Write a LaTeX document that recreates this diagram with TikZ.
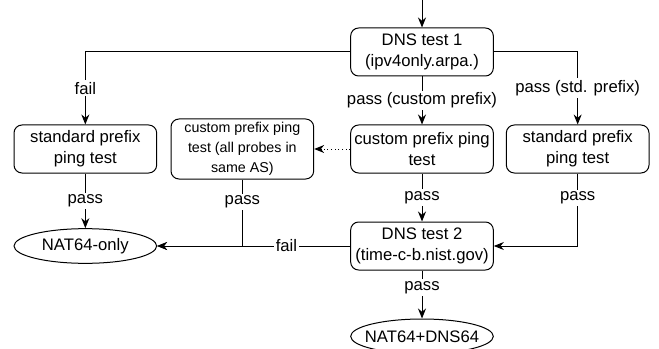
\documentclass[tikz,border=0pt]{standalone}
\usepackage{fontspec}
\setmainfont{Liberation Sans}
\usetikzlibrary{shapes.geometric, arrows.meta, positioning}

\begin{document}
\begin{tikzpicture}[
        node distance=36pt and 9pt,
        font=\fontsize{12.5}{15.5}\selectfont,
        box/.style={rectangle, draw=black, line width=0.75pt, minimum width=107pt, minimum height=36pt,
                    align=center, rounded corners=6pt, inner sep=1pt},
        smallbox/.style={box, minimum height=45pt, font=\fontsize{10.7}{15}\selectfont},
        result/.style={ellipse, draw=black, line width=0.75pt, minimum width=107pt, minimum height=26pt,
                    inner xsep=-8pt, inner ysep=0pt},
        arrow/.style={-{Stealth[length=7.5pt, width=6pt]}, line width=0.75pt},
        lbl/.style={fill=white, inner sep=1.5pt}
    ]
        \path[use as bounding box] (0,0) rectangle (494.25pt,-261.75pt);
        \node[box] (dns1) at (316.5pt,-39pt) {DNS test 1\\(ipv4only.arpa.)};
        \coordinate[above=21pt of dns1] (start);
        \node[box, below=of dns1] (custom) {custom prefix ping\\test};
        \node[box, right=of custom] (stdR) {standard prefix\\ping test};
        \node[smallbox, left=27pt of custom] (sameas) {custom prefix ping\\test (all probes in\\same AS)};
        \node[box, left=10pt of sameas] (stdL) {standard prefix\\ping test};
        \node[box, below=of custom] (dns2) {DNS test 2\\(time-c-b.nist.gov)};
        \node[result, below=of dns2] (both) {NAT64+DNS64};
        \node[result] (only) at (stdL |- dns2) {NAT64-only};
        \draw[arrow] (start) -- (dns1);
        \draw[arrow] (dns1.west) -| node[lbl, pos=0.75] {fail} (stdL.north);
        \draw[arrow] (dns1) -- node[lbl] {pass (custom prefix)} (custom);
        \draw[arrow] (dns1.east) -| node[lbl, pos=0.75] {pass (std. prefix)} (stdR.north);
        \draw[arrow, dotted] (custom) -- (sameas);
        \draw[arrow] (stdL) -- node[lbl] {pass} (only);
        \draw[arrow] (sameas.south) |- node[lbl, pos=0.17] {pass} (only.east);
        \draw[arrow] (dns2) -- node[lbl, pos=0.33] {fail} (only);
        \draw[arrow] (custom) -- node[lbl] {pass} (dns2);
        \draw[arrow] (stdR.south) |- node[lbl, pos=0.17] {pass} (dns2.east);
        \draw[arrow] (dns2) -- node[lbl, pos=0.35] {pass} (both);
    \end{tikzpicture}
\end{document}
